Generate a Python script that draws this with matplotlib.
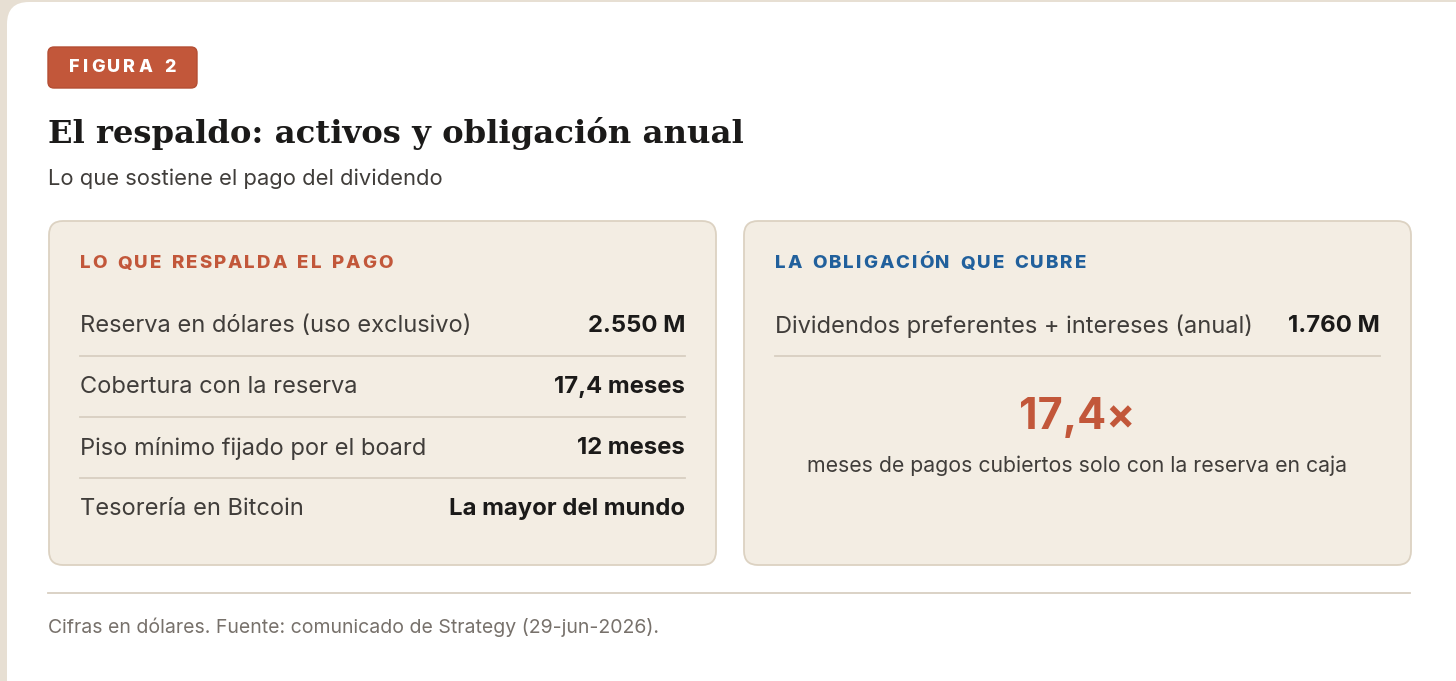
import matplotlib
matplotlib.use("Agg")
import matplotlib.pyplot as plt
from matplotlib.patches import FancyBboxPatch
from matplotlib.font_manager import FontProperties

# ---- content ----
badge_text = "FIGURA 2"
title = "El respaldo: activos y obligación anual"
subtitle = "Lo que sostiene el pago del dividendo"

left_header = "LO QUE RESPALDA EL PAGO"
left_labels = ["Reserva en dólares (uso exclusivo)", "Cobertura con la reserva",
               "Piso mínimo fijado por el board", "Tesorería en Bitcoin"]
left_values = ["2.550 M", "17,4 meses", "12 meses", "La mayor del mundo"]

right_header = "LA OBLIGACIÓN QUE CUBRE"
right_labels = ["Dividendos preferentes + intereses (anual)"]
right_values = ["1.760 M"]
big_number = "17,4×"
big_caption = "meses de pagos cubiertos solo con la reserva en caja"

footer = "Cifras en dólares. Fuente: comunicado de Strategy (29-jun-2026)."

# ---- colours ----
RED = "#c2573a"
BLUE = "#21609c"
CARD = "#f3ede3"
CARD_EDGE = "#dcd2c2"
SEP = "#d8cfc1"
DARK = "#1b1a19"
MID = "#403d3a"
SANS = "Inter"
SERIF = "DejaVu Serif"

W, H = 1456, 681
fig = plt.figure(figsize=(W / 100, H / 100), dpi=100)
fig.patch.set_facecolor("#e7dfd3")
ax = fig.add_axes([0, 0, 1, 1])
ax.set_xlim(0, W)
ax.set_ylim(H, 0)
ax.axis("off")
renderer = fig.canvas.get_renderer()


def spaced(x, y, s, size, spacing, color, weight="heavy", ha="left"):
    # matplotlib has no letter-spacing, so place glyph by glyph
    fp = FontProperties(family=SANS, weight=weight, size=size)
    widths = [renderer.get_text_width_height_descent(c if c != " " else "n", fp, ismath=False)[0] * (0.55 if c == " " else 1)
              for c in s]
    total = sum(widths) + spacing * (len(s) - 1)
    if ha == "center":
        x = x - total / 2
    for c, w in zip(s, widths):
        ax.text(x, y, c, fontproperties=fp, color=color, va="center", ha="left")
        x += w + spacing


# white card
ax.add_patch(FancyBboxPatch((7, 2), W - 7 + 30, H + 30, boxstyle="round,pad=0,rounding_size=22",
                            fc="white", ec="none"))

# badge
ax.add_patch(FancyBboxPatch((48, 47), 149, 41, boxstyle="round,pad=0,rounding_size=6",
                            fc=RED, ec="#b44e33", lw=1))
spaced(122.5, 68, badge_text, 13, 2.9, "white", ha="center")

ax.text(48, 133, title, fontsize=23.2, fontweight="bold", family=SERIF, color=DARK, va="center")
ax.text(48, 179, subtitle, fontsize=15.8, family=SANS, color=MID, va="center")

# the two panels
panels = [(49, left_header, RED, left_labels, left_values),
          (744, right_header, BLUE, right_labels, right_values)]
for x0, head, hcol, labels, values in panels:
    ax.add_patch(FancyBboxPatch((x0, 221), 667, 344, boxstyle="round,pad=0,rounding_size=14",
                                fc=CARD, ec=CARD_EDGE, lw=1.3))
    spaced(x0 + 31, 264, head, 13.5, 2.0, hcol)
    for i, (lab, val) in enumerate(zip(labels, values)):
        y = 326 + i * 61
        ax.text(x0 + 31, y, lab, fontsize=17, family=SANS, color=MID, va="center")
        ax.text(x0 + 636, y, val, fontsize=17.2, family=SANS, fontweight="bold", color=DARK,
                va="center", ha="right")
        if i < len(labels) - 1 or len(labels) == 1:
            ax.plot([x0 + 31, x0 + 636], [y + 30, y + 30], color=SEP, lw=1.3)

ax.text(1077, 418, big_number, fontsize=31, family=SANS, fontweight="bold", color=RED,
        va="center", ha="center")
ax.text(1077, 466, big_caption, fontsize=15.3, family=SANS, color=MID, va="center", ha="center")

ax.plot([48, 1410], [593, 593], color=SEP, lw=1.3)
ax.text(48, 627, footer, fontsize=14, family=SANS, color="#77716b", va="center")

fig.savefig("out.png", dpi=100, facecolor=fig.get_facecolor())
